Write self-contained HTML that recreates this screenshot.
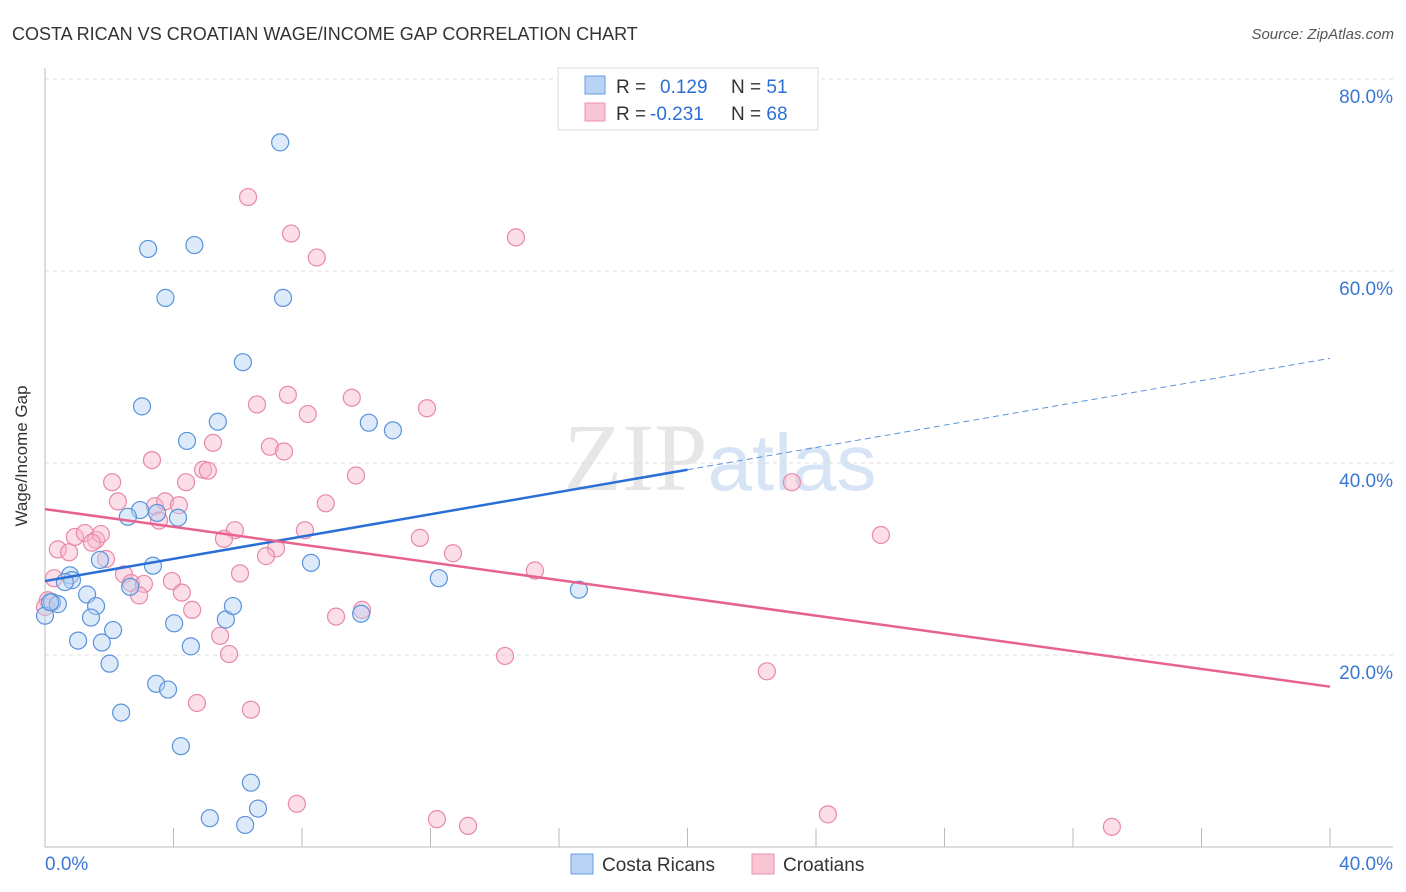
<!DOCTYPE html>
<html><head><meta charset="utf-8"><style>
body{margin:0;background:#fff;font-family:"Liberation Sans",sans-serif;}
svg{display:block}
</style></head><body>
<svg id="chart" width="1406" height="892">
<text x="12" y="40" font-size="18" fill="#333">COSTA RICAN VS CROATIAN WAGE/INCOME GAP CORRELATION CHART</text>
<text x="1394" y="39" font-size="15" fill="#555" font-style="italic" text-anchor="end">Source: ZipAtlas.com</text>
<text x="720" y="490" font-size="96" fill="#e6e6e6" text-anchor="middle" font-family="Liberation Serif">ZIP<tspan fill="#d6e4f5" font-family="Liberation Sans" font-size="80">atlas</tspan></text>
<g id="grid"></g><g id="axes"></g><g id="marks"></g>
<text x="27" y="456" font-size="17" fill="#333" text-anchor="middle" transform="rotate(-90 27 456)">Wage/Income Gap</text>
<g>
<rect x="558" y="68" width="260" height="62" fill="#fff" stroke="#ddd"/>
<rect x="585" y="76" width="20" height="18" fill="#b8d3f5" stroke="#6a9ee0"/>
<rect x="585" y="103" width="20" height="18" fill="#f9c5d5" stroke="#ec93b0"/>
<text x="616" y="93" font-size="19" fill="#333">R = <tspan fill="#2a6fd6" x="660">0.129</tspan><tspan x="731">N = </tspan><tspan fill="#2a6fd6">51</tspan></text>
<text x="616" y="120" font-size="19" fill="#333">R = <tspan fill="#2a6fd6" x="650">-0.231</tspan><tspan x="731">N = </tspan><tspan fill="#2a6fd6">68</tspan></text>
</g>
<g>
<rect x="571" y="854" width="22" height="20" fill="#b8d3f5" stroke="#6a9ee0"/>
<text x="602" y="871" font-size="19" fill="#333">Costa Ricans</text>
<rect x="752" y="854" width="22" height="20" fill="#f9c5d5" stroke="#ec93b0"/>
<text x="783" y="871" font-size="19" fill="#333">Croatians</text>
</g>
</svg>
<script>
const blueX=[7.32,3.21,4.65,3.75,7.41,6.16,3.02,5.38,4.42,10.08,10.83,2.96,2.58,3.49,4.14,3.36,8.28,1.71,0.78,0.84,0.62,1.31,1.59,0.22,0.40,2.65,1.43,2.12,1.03,1.77,4.02,5.63,5.85,4.54,2.01,3.46,3.83,2.37,4.23,6.41,6.63,5.13,6.23,9.84,12.26,16.62,0.0,0.16];
const blueY=[73.4,62.3,62.7,57.2,57.2,50.5,45.9,44.3,42.3,44.2,43.4,35.1,34.4,34.8,34.3,29.3,29.6,29.9,28.3,27.8,27.6,26.3,25.1,25.5,25.3,27.1,23.9,22.6,21.5,21.3,23.3,23.7,25.1,20.9,19.1,17.0,16.4,14.0,10.5,6.7,4.0,3.0,2.3,24.3,28.0,26.8,24.1,25.5];
const pinkX=[6.32,7.66,8.46,14.66,6.60,7.56,8.18,9.55,11.89,5.23,7.00,7.44,4.92,5.07,3.33,4.39,2.09,2.27,3.42,3.74,4.17,3.55,8.74,9.68,5.91,5.57,8.09,7.19,6.88,11.67,12.70,15.25,23.25,26.02,0.40,0.75,0.93,1.24,1.59,1.74,1.46,1.90,0.28,2.46,2.68,3.08,3.95,2.93,4.26,4.58,6.07,9.06,9.87,5.45,5.73,14.32,22.47,4.73,6.41,7.84,12.20,13.17,24.37,33.21,0.09,0.0];
const pinkY=[67.7,63.9,61.4,63.5,46.1,47.1,45.1,46.8,45.7,42.1,41.7,41.2,39.3,39.2,40.3,38.0,38.0,36.0,35.5,36.0,35.6,34.0,35.8,38.7,33.0,32.1,33.0,31.1,30.3,32.2,30.6,28.8,38.0,32.5,31.0,30.7,32.3,32.7,32.0,32.6,31.7,30.0,28.0,28.4,27.5,27.4,27.7,26.2,26.5,24.7,28.5,24.0,24.7,22.0,20.1,19.9,18.3,15.0,14.3,4.5,2.9,2.2,3.4,2.1,25.7,25.0];
const yTicks=[20,40,60,80];
const yTickLabels=["20.0%","40.0%","60.0%","80.0%"];
const xTickLabels=["0.0%","40.0%"];
const blueTrend=[0,27.7,20,39.3,40,50.9];
const pinkTrend=[0,35.2,40,16.7];
const X0=45,X1=1330,Y0=847,PY=192/20;
const sx=v=>X0+(v/40)*(X1-X0), sy=v=>Y0-v*PY;
const NS="http://www.w3.org/2000/svg";
function mk(p,t,a){const e=document.createElementNS(NS,t);for(const k in a)e.setAttribute(k,a[k]);p.appendChild(e);return e;}
const grid=document.getElementById('grid'),axes=document.getElementById('axes'),marks=document.getElementById('marks');
yTicks.forEach((t,i)=>{
 const l=mk(grid,'line',{x1:45,x2:1393,y1:sy(t),y2:sy(t),stroke:'#ddd','stroke-dasharray':'4,4'});
 
 
 const tx=mk(axes,'text',{x:1393,y:sy(t)+24,'font-size':19,fill:'#3a78d4','text-anchor':'end'});
 tx.textContent=yTickLabels[i];
 
 
});
const tl=mk(grid,'line',{x1:45,x2:1393,y1:79,y2:79,stroke:'#ddd','stroke-dasharray':'4,4'});


const ya=mk(axes,'line',{x1:45,x2:45,y1:68,y2:847,stroke:'#bbb'});


const xa=mk(axes,'line',{x1:45,x2:1393,y1:847,y2:847,stroke:'#bbb'});


for(let i=1;i<=10;i++){const t=mk(axes,'line',{x1:sx(i*4),x2:sx(i*4),y1:828,y2:847,stroke:'#bbb'});
 
 }
[[0,'start',45],[1,'end',1393]].forEach(([i,a,x])=>{const t=mk(axes,'text',{x:x,y:870,'font-size':19,fill:'#3a78d4','text-anchor':a});t.textContent=xTickLabels[i];
 
 });
function dots(xs,ys,fill,stroke,name){xs.forEach((x,i)=>{const c=mk(marks,'circle',{cx:sx(x),cy:sy(ys[i]),r:8.5,fill:fill,'fill-opacity':0.45,stroke:stroke,'stroke-width':1.2});
 
 });}
dots(pinkX,pinkY,'#f7b6ca','#e889a8','croatian-point');
dots(blueX,blueY,'#b3d0f3','#5a93dc','costa-rican-point');
const b1=mk(marks,'line',{x1:sx(blueTrend[0]),y1:sy(blueTrend[1]),x2:sx(blueTrend[2]),y2:sy(blueTrend[3]),stroke:'#2a6fd6','stroke-width':2.5});


const b2=mk(marks,'line',{x1:sx(blueTrend[2]),y1:sy(blueTrend[3]),x2:sx(blueTrend[4]),y2:sy(blueTrend[5]),stroke:'#5a93dc','stroke-width':1,'stroke-dasharray':'6,4'});


const p1=mk(marks,'line',{x1:sx(pinkTrend[0]),y1:sy(pinkTrend[1]),x2:sx(pinkTrend[2]),y2:sy(pinkTrend[3]),stroke:'#e8628f','stroke-width':2.5});


</script>
</body></html>
